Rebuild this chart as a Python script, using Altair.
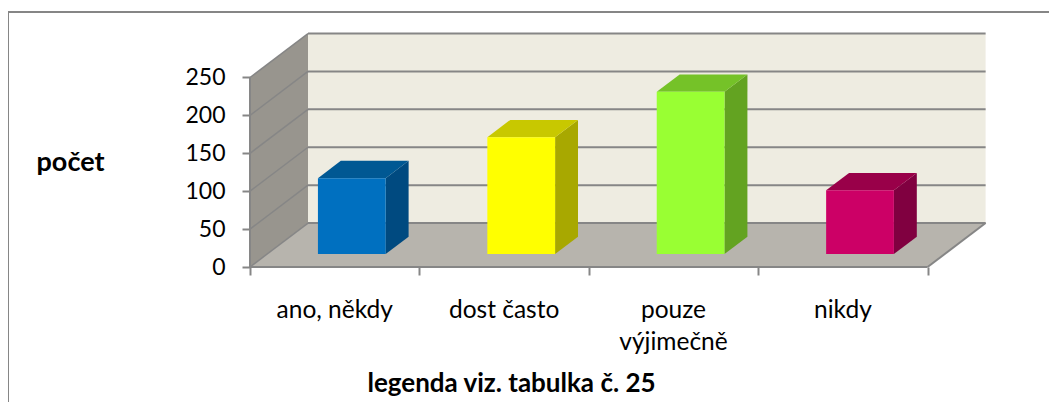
import altair as alt
import pandas as pd

categories = ["ano, někdy", "dost často", "pouze", "nikdy"]
second_lines = ["", "", "výjimečně", ""]
values = [100, 154, 214, 84]
front_colors = ["#0070C0", "#FFFF00", "#99FF33", "#CC0066"]
side_colors = ["#004A80", "#A8A800", "#63A321", "#800040"]
top_colors = ["#005893", "#C8C800", "#75C228", "#990049"]
y_ticks = [0, 50, 100, 150, 200, 250]
x_ticks = [0, 1, 2, 3, 4]

FONT = "Lato"
GRAY = "#868686"
W, H = 736, 234
DX, DY = 0.3424, 58          # depth of the 3-D box in axis units
XMAX, YMAX = 4.3447, 308.7
Z0, Z1 = 0.295, 0.69         # bar depth inside the box
B0, B1 = 0.3, 0.7            # bar extent inside a category

xs = alt.Scale(domain=[0, XMAX], nice=False, zero=False)
ys = alt.Scale(domain=[0, YMAX], nice=False, zero=False)

# walls and floor
back = pd.DataFrame({"x": [DX], "x2": [4 + DX], "y": [DY], "y2": [250 + DY]})
side_wall = pd.DataFrame({"x": [0, DX], "y": [0, DY], "y2": [250, 250 + DY]})
floor = pd.DataFrame({"y": [0, DY], "x": [0, DX], "x2": [4, 4 + DX]})

# bars
fronts, sides, tops = [], [], []
for i, v in enumerate(values):
    fronts.append(dict(x=i + B0 + Z0 * DX, x2=i + B1 + Z0 * DX, y=Z0 * DY, y2=v + Z0 * DY, c=front_colors[i]))
    for z in (Z0, Z1):
        sides.append(dict(id=i, x=i + B1 + z * DX, y=z * DY, y2=v + z * DY, c=side_colors[i]))
        tops.append(dict(id=i, y=v + z * DY, x=i + B0 + z * DX, x2=i + B1 + z * DX, c=top_colors[i]))
fronts, sides, tops = map(pd.DataFrame, (fronts, sides, tops))

# grid lines
grid_back = pd.DataFrame({"x": [DX] * 6, "x2": [4 + DX] * 6, "y": [t + DY for t in y_ticks]})
grid_side = pd.DataFrame([dict(id=t, x=x, y=t + d) for t in y_ticks for x, d in ((0, 0), (DX, DY))])
edges = pd.DataFrame([
    dict(id="floor_right", x=4, y=0), dict(id="floor_right", x=4 + DX, y=DY),
    dict(id="axis_x", x=0, y=0), dict(id="axis_x", x=4, y=0),
    dict(id="axis_y", x=0, y=0), dict(id="axis_y", x=0, y=250),
])

labels = pd.DataFrame({"x": [i + 0.5 for i in range(4)], "a": categories, "b": second_lines})

X = alt.X("x:Q", scale=xs, axis=None)
Y = alt.Y("y:Q", scale=ys, axis=None)

base_axes = alt.Chart(back).mark_rect(color="#EEECE1").encode(
    x=alt.X("x:Q", scale=xs, axis=alt.Axis(
        values=x_ticks, labels=False, domain=False, grid=False, tickSize=8, tickWidth=2, tickColor=GRAY,
        title="legenda viz. tabulka č. 25", titleFont=FONT, titleFontSize=26, titleFontWeight="bold",
        titleColor="#000000", titleX=261, titleY=116, titleAlign="center", titleBaseline="middle")),
    x2="x2:Q",
    y=alt.Y("y:Q", scale=ys, axis=alt.Axis(
        values=y_ticks, domain=False, grid=False, tickSize=8, tickWidth=2, tickColor=GRAY,
        labelFont=FONT, labelFontSize=23, labelColor="#000000", labelPadding=17,
        title="počet", titleFont=FONT, titleFontSize=27, titleFontWeight="bold", titleColor="#000000",
        titleAngle=0, titleX=-180, titleY=129, titleAlign="center", titleBaseline="middle")),
    y2="y2:Q",
)

side_layer = alt.Chart(side_wall).mark_area(color="#98958E", orient="vertical").encode(x=X, y=Y, y2="y2:Q")
floor_layer = alt.Chart(floor).mark_area(color="#B7B4AD", orient="horizontal").encode(y=Y, x=X, x2="x2:Q")
grid1 = alt.Chart(grid_back).mark_rule(color=GRAY, strokeWidth=2).encode(x=X, x2="x2:Q", y=Y)
grid2 = alt.Chart(grid_side).mark_line(color=GRAY, strokeWidth=1.5).encode(x=X, y=Y, detail="id:N", order="x:Q")
edge_layer = alt.Chart(edges).mark_line(color=GRAY, strokeWidth=2).encode(x=X, y=Y, detail="id:N")

bar_side = alt.Chart(sides).mark_area(orient="vertical").encode(
    x=X, y=Y, y2="y2:Q", detail="id:N", color=alt.Color("c:N", scale=None))
bar_top = alt.Chart(tops).mark_area(orient="horizontal").encode(
    y=Y, x=X, x2="x2:Q", detail="id:N", color=alt.Color("c:N", scale=None))
bar_front = alt.Chart(fronts).mark_rect().encode(
    x=X, x2="x2:Q", y=Y, y2="y2:Q", color=alt.Color("c:N", scale=None))

text_style = dict(font=FONT, fontSize=24.5, color="#000000", align="center", baseline="middle")
line1 = alt.Chart(labels).mark_text(**text_style).encode(x=X, y=alt.value(278), text="a:N")
line2 = alt.Chart(labels).mark_text(**text_style).encode(x=X, y=alt.value(310), text="b:N")

frame_top = alt.Chart(pd.DataFrame({"k": [0]})).mark_rule(color=GRAY, strokeWidth=2).encode(
    x=alt.value(-242), x2=alt.value(799), y=alt.value(-21))
frame_left = alt.Chart(pd.DataFrame({"k": [0]})).mark_rule(color=GRAY, strokeWidth=2).encode(
    x=alt.value(-242), y=alt.value(-21), y2=alt.value(369))

chart = alt.layer(
    base_axes, side_layer, floor_layer, grid1, grid2, edge_layer,
    bar_side, bar_top, bar_front, line1, line2, frame_top, frame_left,
).resolve_axis(x="independent", y="independent").properties(
    width=W, height=H,
    autosize=alt.AutoSizeParams(type="none"),
    padding={"left": 242, "top": 25, "right": 63, "bottom": 135},
    background="#FFFFFF",
).configure_view(stroke=None)

chart.save("out.html", embed_options={"renderer": "svg", "actions": False})
